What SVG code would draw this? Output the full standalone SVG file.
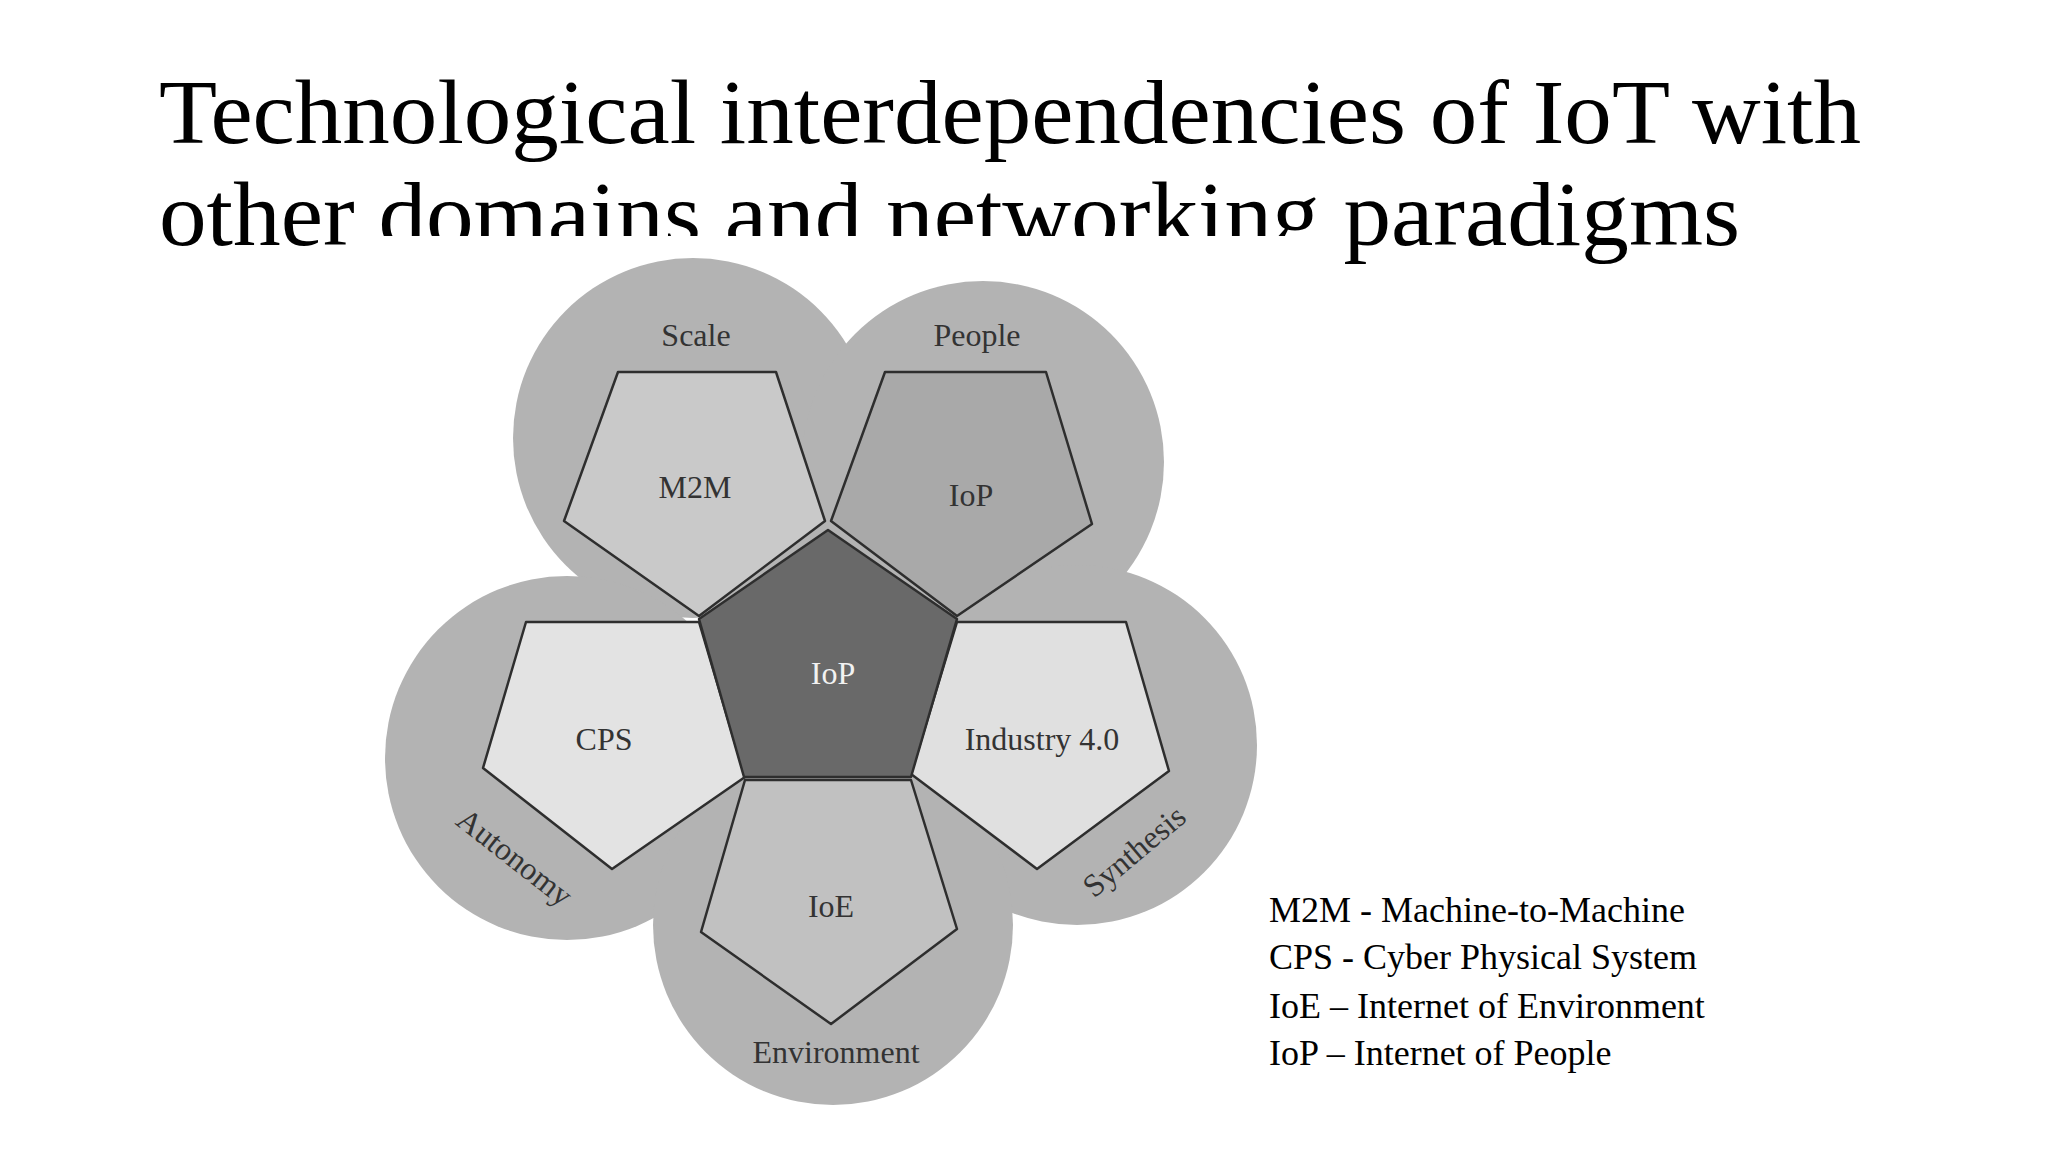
<svg xmlns="http://www.w3.org/2000/svg" width="2048" height="1152" viewBox="0 0 2048 1152">
<style>
.t{font-family:"Liberation Serif","Times New Roman",serif;fill:#000}
.l{font-family:"Liberation Serif","Times New Roman",serif;font-size:32px;fill:#333;text-anchor:middle}
.c{fill:#b3b3b3}
.p{stroke:#2e2e2e;stroke-width:2.5;stroke-linejoin:round}
</style>
<rect width="2048" height="1152" fill="#fff"/>
<g id="title">
<text class="t" x="159" y="143" font-size="92" textLength="1702" lengthAdjust="spacingAndGlyphs">Technological interdependencies of IoT with</text>
<text class="t" x="159" y="245" font-size="92" textLength="1581" lengthAdjust="spacingAndGlyphs">other domains and networking paradigms</text>
</g>
<rect x="377" y="236" width="945" height="916" fill="#fff"/>
<g id="circles">
<circle class="c" cx="693" cy="438" r="180"/>
<circle class="c" cx="983" cy="462" r="181"/>
<circle class="c" cx="567" cy="758" r="182"/>
<circle class="c" cx="1077" cy="745" r="180"/>
<circle class="c" cx="833" cy="925" r="180"/>
</g>
<g id="m2m"><polygon class="p" fill="#c9c9c9" points="618,372 776,372 825,521 699,616 564,521"/><text class="l" x="695" y="498">M2M</text><text class="l" x="696" y="346">Scale</text></g>
<g id="iop-outer"><polygon class="p" fill="#a9a9a9" points="885,372 1046,372 1092,524 957,616 831,521"/><text class="l" x="971" y="506">IoP</text><text class="l" x="977" y="346">People</text></g>
<g id="cps"><polygon class="p" fill="#e3e3e3" points="526,622 699,622 745,777 612,869 483,768"/><text class="l" x="604" y="750">CPS</text><text class="l" transform="translate(515,857) rotate(38)" x="0" y="11">Autonomy</text></g>
<g id="industry"><polygon class="p" fill="#e0e0e0" points="957,622 1126,622 1169,771 1037,869 911,774"/><text class="l" x="1042" y="750">Industry 4.0</text><text class="l" transform="translate(1134,851) rotate(-40)" x="0" y="11">Synthesis</text></g>
<g id="ioe"><polygon class="p" fill="#c1c1c1" points="745,780 911,780 957,929 831,1024 701,932"/><text class="l" x="831" y="917">IoE</text><text class="l" x="836" y="1063">Environment</text></g>
<g id="center"><polygon class="p" fill="#696969" points="828,530 957,619 911,777 744,777 699,619"/><text class="l" x="833" y="684" fill="#f2f2f2" style="fill:#f2f2f2">IoP</text></g>
<g id="legend" class="t" font-size="36">
<text x="1269" y="922">M2M - Machine-to-Machine</text>
<text x="1269" y="969">CPS - Cyber Physical System</text>
<text x="1269" y="1018">IoE – Internet of Environment</text>
<text x="1269" y="1065">IoP – Internet of People</text>
</g>
<g id="connectors"/>
</svg>
